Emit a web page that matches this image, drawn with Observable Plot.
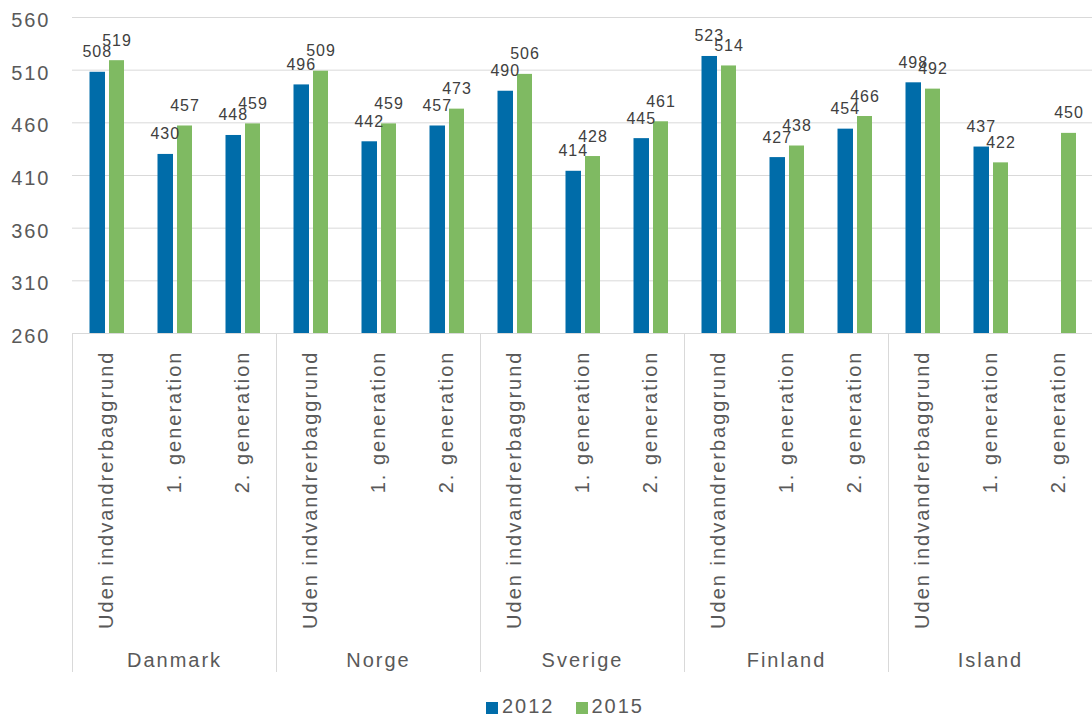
<!DOCTYPE html>
<html><head><meta charset="utf-8">
<script src="https://cdn.jsdelivr.net/npm/d3@7"></script>
<script src="https://cdn.jsdelivr.net/npm/@observablehq/plot@0.6"></script>
<style>
body{margin:0;background:#fff;font-family:"Liberation Sans",Arial,sans-serif;}
#chart svg{display:block;letter-spacing:2px;}
#chart g[aria-label="text"] text{letter-spacing:1px;}
#legend{height:32px;display:flex;justify-content:center;align-items:center;gap:21px;font-size:20px;letter-spacing:2px;color:#595959;padding-left:38px;}
#legend .sw{display:inline-block;width:12px;height:12px;margin-right:4px;vertical-align:-1px;}
</style></head><body>
<div id="chart"></div>
<div id="legend"></div>
<script>
const countries = ["Danmark", "Norge", "Sverige", "Finland", "Island"];
const groups = ["Uden indvandrerbaggrund", "1. generation", "2. generation"];
const years = ["2012", "2015"];
const values2012 = [508, 430, 448, 496, 442, 457, 490, 414, 445, 523, 427, 454, 498, 437, null];
const values2015 = [519, 457, 459, 509, 459, 473, 506, 428, 461, 514, 438, 466, 492, 422, 450];
const yTicks = [260, 310, 360, 410, 460, 510, 560];
const colors = ["#006ca9", "#7fba62"];

const rows = [];
countries.forEach((c, ci) => groups.forEach((g, gi) => {
  const i = ci * groups.length + gi;
  rows.push({key: c + "|" + g, country: c, group: g, gi, v2012: values2012[i], v2015: values2015[i]});
}));
const keys = rows.map(d => d.key);
const firstKeys = rows.filter(d => d.gi === 0).map(d => d.key);
const midKeys = new Set(rows.filter(d => d.gi === 1).map(d => d.key));
const r2012 = rows.filter(d => d.v2012 != null);
const r2015 = rows.filter(d => d.v2015 != null);

const W = 1092, H = 690, mL = 72, mT = 17, frameBottom = 333;
const band = (W - mL) / keys.length;
const grey = "#d9d9d9", txt = "#595959";

const plot = Plot.plot({
  width: W, height: H,
  marginLeft: mL, marginRight: 0, marginTop: mT, marginBottom: H - frameBottom,
  style: {fontFamily: '"Liberation Sans", Arial, sans-serif', color: txt, background: "#fff"},
  x: {type: "band", domain: keys, padding: 0, axis: null},
  y: {domain: [yTicks[0], yTicks[yTicks.length - 1]], clamp: true, axis: null},
  marks: [
    Plot.ruleY(yTicks, {stroke: grey, strokeWidth: 1}),
    Plot.barY(r2012, {x: "key", y: "v2012", fill: colors[0], insetLeft: 17.5, insetRight: 35}),
    Plot.barY(r2015, {x: "key", y: "v2015", fill: colors[1], insetLeft: 37, insetRight: 16}),
    Plot.text(r2012, {x: "key", y: "v2012", text: d => String(d.v2012), dx: -9.25, dy: -15, lineAnchor: "bottom", fontSize: 16, fill: "#404040"}),
    Plot.text(r2015, {x: "key", y: "v2015", text: d => String(d.v2015), dx: 10.5, dy: -15, lineAnchor: "bottom", fontSize: 16, fill: "#404040"}),
    Plot.ruleX(firstKeys, {x: d => d, dx: -band / 2, insetTop: frameBottom - mT, insetBottom: -(672 - frameBottom), stroke: grey, strokeWidth: 1}),
    Plot.axisY({ticks: yTicks, tickSize: 0, tickPadding: 22, fontSize: 20, fill: txt, dy: 3, label: null}),
    Plot.axisX({tickFormat: k => k.split("|")[1], tickRotate: -90, tickSize: 0, tickPadding: 17, fontSize: 20, fill: txt, label: null}),
    Plot.axisX({tickFormat: k => midKeys.has(k) ? k.split("|")[0] : "", tickSize: 0, tickPadding: 319, fontSize: 20, fill: txt, label: null})
  ]
});
document.getElementById("chart").appendChild(plot);

const legend = d3.select("#legend");
years.forEach((y, i) => {
  const item = legend.append("span");
  item.append("span").attr("class", "sw").style("background", colors[i]);
  item.append("span").text(y);
});
</script>
</body></html>
